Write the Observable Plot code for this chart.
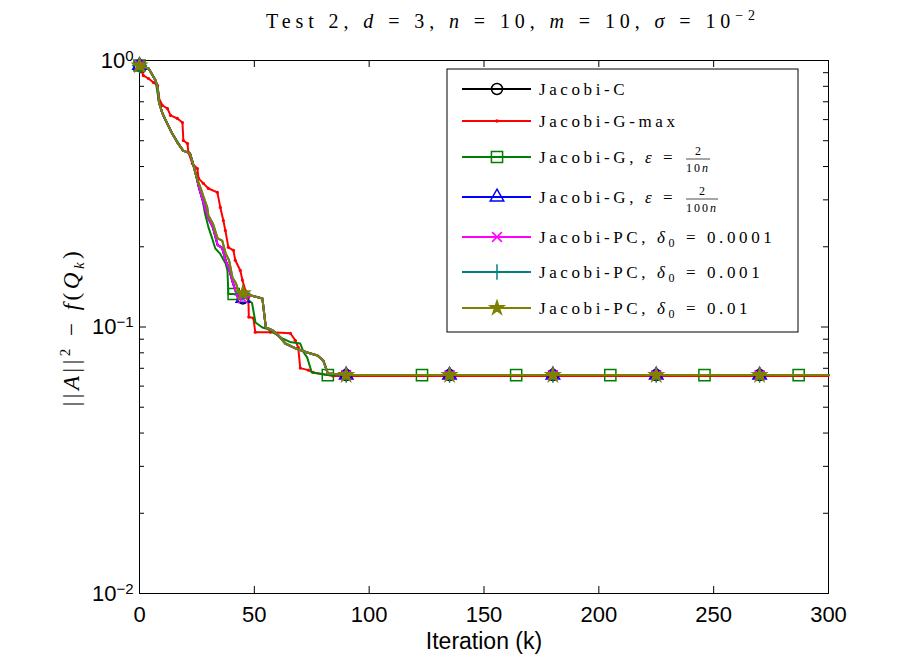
<!DOCTYPE html>
<html>
<head>
<meta charset="utf-8">
<script src="https://cdn.jsdelivr.net/npm/d3@7"></script>
<script src="https://cdn.jsdelivr.net/npm/@observablehq/plot@0.6"></script>
<style>
  body { margin: 0; background: #fff; }
  #chart { position: relative; width: 917px; height: 667px; }
</style>
</head>
<body>
<div id="chart"></div>
<script>
// Residual ||A||^2 - f(Q_k) per iteration for each Jacobi-type method.
const itersMain = [0, 4, 7, 8, 8.5, 10, 11, 14, 16.5, 19, 22, 23.5, 25, 26.5, 28, 29.5, 30, 32, 34, 36, 37.5, 39, 40.5, 42, 43, 44, 45, 49, 53.5, 55, 58, 60.5, 63.5, 67, 73, 77.5, 80, 82, 90, 135, 180, 225, 270, 300];
const valsMain = [0.958, 0.933, 0.841, 0.785, 0.696, 0.633, 0.606, 0.537, 0.492, 0.459, 0.448, 0.404, 0.361, 0.334, 0.306, 0.281, 0.262, 0.244, 0.215, 0.211, 0.189, 0.178, 0.153, 0.146, 0.137, 0.135, 0.134, 0.131, 0.128, 0.0996, 0.097, 0.0929, 0.0867, 0.0838, 0.0802, 0.0782, 0.0749, 0.0669, 0.066, 0.066, 0.066, 0.066, 0.066, 0.066];

const itersBlue = [0, 4, 7, 8, 8.5, 10, 11, 14, 16.5, 19, 22, 23.5, 25, 26, 27.5, 29, 30, 32, 34, 36, 37.5, 39, 40.5, 42, 43, 45, 47, 49, 53.5, 55, 58, 60.5, 63.5, 67, 73, 77.5, 80, 82, 90, 135, 180, 225, 270, 300];
const valsBlue = [0.958, 0.933, 0.841, 0.785, 0.696, 0.633, 0.606, 0.537, 0.492, 0.459, 0.448, 0.404, 0.361, 0.330, 0.300, 0.270, 0.255, 0.236, 0.203, 0.198, 0.178, 0.165, 0.148, 0.135, 0.128, 0.128, 0.130, 0.131, 0.128, 0.0996, 0.097, 0.0929, 0.0867, 0.0838, 0.0802, 0.0782, 0.0749, 0.0669, 0.066, 0.066, 0.066, 0.066, 0.066, 0.066];

const itersGreen = [0, 4, 7, 8.5, 10, 14, 19, 22, 23.5, 25.5, 27.5, 28.5, 30, 31.5, 33, 35, 37.5, 38.3, 38.7, 41, 46, 49, 50.5, 53.5, 55.5, 58, 62, 65.5, 70, 71.5, 73, 75, 82, 123, 164, 205, 246, 287, 300];
const valsGreen = [0.958, 0.933, 0.841, 0.696, 0.633, 0.537, 0.459, 0.448, 0.404, 0.346, 0.298, 0.267, 0.237, 0.217, 0.197, 0.189, 0.173, 0.163, 0.133, 0.133, 0.129, 0.123, 0.104, 0.0996, 0.0985, 0.0956, 0.0908, 0.0879, 0.0867, 0.0802, 0.0769, 0.0675, 0.066, 0.066, 0.066, 0.066, 0.066, 0.066, 0.066];

const itersRed = [0, 1.7, 3.9, 6.1, 7.8, 8.3, 10, 12.2, 13.5, 16.5, 18.7, 19.1, 20.9, 21.3, 23, 25.2, 25.7, 27.8, 30, 33.9, 35.2, 36.5, 37.4, 38.7, 40.9, 41.7, 43.9, 44.8, 46.1, 47.4, 47.6, 49.6, 50.4, 57, 65.7, 67.8, 69.1, 70, 73.5, 75.7, 84.3, 300];
const valsRed = [0.958, 0.878, 0.856, 0.827, 0.806, 0.727, 0.678, 0.660, 0.622, 0.606, 0.585, 0.501, 0.488, 0.452, 0.411, 0.393, 0.361, 0.346, 0.331, 0.320, 0.281, 0.251, 0.230, 0.199, 0.194, 0.178, 0.163, 0.150, 0.137, 0.129, 0.109, 0.108, 0.0956, 0.0956, 0.0947, 0.0892, 0.0838, 0.0701, 0.0689, 0.0675, 0.0655, 0.0655];

// Iterations where markers are drawn
const markEvery45 = [0, 45, 90, 135, 180, 225, 270];
const markEvery41 = [0, 41, 82, 123, 164, 205, 246, 287];

// Axis ticks
const xTicks = [0, 50, 100, 150, 200, 250, 300];
const yMajor = [0.01, 0.1, 1];
const yMinor = [0.02, 0.03, 0.04, 0.05, 0.06, 0.07, 0.08, 0.09, 0.2, 0.3, 0.4, 0.5, 0.6, 0.7, 0.8, 0.9];

const series = [
  {name: "Jacobi-C", color: "#000000", symbol: "circle", r: 5.5, iters: itersBlue, values: valsBlue, marks: markEvery45,
   label: [{t: "Jacobi-C"}]},
  {name: "Jacobi-G-max", color: "#ff0000", symbol: null, iters: itersRed, values: valsRed, marks: [],
   label: [{t: "Jacobi-G-max"}]},
  {name: "Jacobi-G 2/(10n)", color: "#008000", symbol: "square", r: 6.3, iters: itersGreen, values: valsGreen, marks: markEvery41,
   label: [{t: "Jacobi-G, "}, {t: "ε", it: true}, {t: " = "}], frac: ["2", "10", "n"]},
  {name: "Jacobi-G 2/(100n)", color: "#0000ff", symbol: "triangle", r: 5, iters: itersBlue, values: valsBlue, marks: markEvery45,
   label: [{t: "Jacobi-G, "}, {t: "ε", it: true}, {t: " = "}], frac: ["2", "100", "n"]},
  {name: "Jacobi-PC 0.0001", color: "#ff00ff", symbol: "times", r: 4.5, iters: itersBlue, values: valsBlue, marks: markEvery45,
   label: [{t: "Jacobi-PC, "}, {t: "δ", it: true}, {t: "0", sub: true}, {t: " = 0.0001"}]},
  {name: "Jacobi-PC 0.001", color: "#008080", symbol: "plus", r: 5, iters: itersMain, values: valsMain, marks: markEvery45,
   label: [{t: "Jacobi-PC, "}, {t: "δ", it: true}, {t: "0", sub: true}, {t: " = 0.001"}]},
  {name: "Jacobi-PC 0.01", color: "#808000", symbol: "star", r: 4.3, fill: "#808000", iters: itersMain, values: valsMain, marks: markEvery45,
   label: [{t: "Jacobi-PC, "}, {t: "δ", it: true}, {t: "0", sub: true}, {t: " = 0.01"}]}
];

const rows = s => s.iters.map((k, i) => ({k, v: s.values[i]}));

const W = 917, H = 667, mL = 139, mR = 89, mT = 60, mB = 74;
const plotW = W - mL - mR, plotH = H - mT - mB;

const marks = [
  Plot.frame({stroke: "#000", strokeWidth: 1}),
  // inward ticks on all four sides
  Plot.tickX(xTicks, {x: d => d, insetTop: plotH - 7, stroke: "#000"}),
  Plot.tickX(xTicks, {x: d => d, insetBottom: plotH - 7, stroke: "#000"}),
  Plot.tickY(yMajor, {y: d => d, insetRight: plotW - 7, stroke: "#000"}),
  Plot.tickY(yMajor, {y: d => d, insetLeft: plotW - 7, stroke: "#000"}),
  Plot.tickY(yMinor, {y: d => d, insetRight: plotW - 5, stroke: "#000"}),
  Plot.tickY(yMinor, {y: d => d, insetLeft: plotW - 5, stroke: "#000"}),
  Plot.axisX({ticks: xTicks, tickSize: 0, tickPadding: 13, label: null, fontSize: 22}),
  Plot.axisY({ticks: yMajor, tickSize: 0, tickPadding: 6, label: null, fontSize: 22,
              tickFormat: d => String(Math.round(Math.log10(d)))}),
  Plot.text(["Iteration (k)"], {text: d => d, frameAnchor: "bottom", lineAnchor: "middle", dy: 48, fontSize: 23})
];

for (const s of series) {
  const data = rows(s);
  marks.push(Plot.line(data, {x: "k", y: "v", stroke: s.color, strokeWidth: 2}));
  if (s.symbol) {
    marks.push(Plot.dot(data.filter(d => s.marks.includes(d.k)), {
      x: "k", y: "v", symbol: s.symbol, r: s.r,
      stroke: s.color, fill: s.fill || "none", strokeWidth: 1.5
    }));
  } else {
    marks.push(Plot.dot(data.filter(d => d.k < 300), {x: "k", y: "v", r: 1.6, fill: s.color, stroke: "none"}));
  }
}

const chart = Plot.plot({
  width: W, height: H,
  marginLeft: mL, marginRight: mR, marginTop: mT, marginBottom: mB,
  style: {fontFamily: "'Liberation Sans', Arial, Helvetica, sans-serif", fontSize: "22px", background: "#fff", color: "#000"},
  x: {domain: [0, 300]},
  y: {type: "log", domain: [0.01, 1]},
  marks
});
document.getElementById("chart").appendChild(chart);

const svg = d3.select(chart);

// Power-of-ten tick labels: "10" with a raised exponent
svg.selectAll('[aria-label="y-axis tick label"] text').each(function () {
  const exp = this.textContent.replace("-", "\u2212");
  const t = d3.select(this);
  t.text("10");
  t.append("tspan").attr("dy", "-0.45em").attr("font-size", 15).text(exp);
});

const serif = "'Liberation Serif', 'Times New Roman', serif";

// Title
const title = svg.append("text")
  .attr("x", 266).attr("y", 28).attr("text-anchor", "start")
  .attr("font-family", serif).attr("font-size", 20).attr("fill", "#000");
const tparts = [["Test 2, "], ["d", 1], [" = 3, "], ["n", 1], [" = 10, "], ["m", 1], [" = 10, "], ["σ", 1], [" = 10"]];
for (const [t, it] of tparts) title.append("tspan").attr("font-style", it ? "italic" : null).text(t);
title.append("tspan").attr("dy", -8).attr("font-size", 14).text("\u22122");
{
  const n = title.text().length;
  const len = title.node().getComputedTextLength();
  title.attr("letter-spacing", ((494 - len) / n).toFixed(2) + "px");
}

// Y-axis label, rotated
const yl = svg.append("text")
  .attr("transform", "translate(79,327) rotate(-90)")
  .attr("text-anchor", "middle")
  .attr("font-family", serif).attr("font-size", 23).attr("fill", "#000")
  .attr("letter-spacing", "3.5px");
yl.append("tspan").text("||");
yl.append("tspan").attr("font-style", "italic").text("A");
yl.append("tspan").text("||");
yl.append("tspan").attr("dy", -9).attr("font-size", 15).text("2");
yl.append("tspan").attr("dy", 9).text(" \u2212 ");
yl.append("tspan").attr("font-style", "italic").text("f");
yl.append("tspan").text("(");
yl.append("tspan").attr("font-style", "italic").text("Q");
yl.append("tspan").attr("dy", 5).attr("font-size", 15).attr("font-style", "italic").text("k");
yl.append("tspan").attr("dy", -5).text(")");

// Legend
const lg = svg.append("g").attr("text-anchor", "start");
lg.append("rect").attr("x", 447).attr("y", 69).attr("width", 351).attr("height", 263)
  .attr("fill", "#fff").attr("stroke", "#000").attr("stroke-width", 1);
const rowY = [89, 121, 157, 197, 237, 272, 308];
const symMap = {circle: d3.symbolCircle, square: d3.symbolSquare, triangle: d3.symbolTriangle,
                times: d3.symbolTimes, plus: d3.symbolPlus, star: d3.symbolStar};
series.forEach((s, i) => {
  const y = rowY[i];
  lg.append("line").attr("x1", 462).attr("x2", 531).attr("y1", y).attr("y2", y)
    .attr("stroke", s.color).attr("stroke-width", 2);
  if (s.symbol) {
    lg.append("path").attr("transform", `translate(497,${y})`)
      .attr("d", d3.symbol(symMap[s.symbol], Math.PI * s.r * s.r)())
      .attr("fill", s.fill || "none").attr("stroke", s.color).attr("stroke-width", 1.5);
  } else {
    lg.append("circle").attr("cx", 497).attr("cy", y).attr("r", 1.8).attr("fill", s.color);
  }
  const tx = lg.append("text").attr("x", 539).attr("y", y + 6).attr("text-anchor", "start")
    .attr("font-family", serif).attr("font-size", 17).attr("fill", "#000")
    .attr("letter-spacing", "3.6px");
  s.label.forEach((p, j) => {
    const ts = tx.append("tspan").text(p.t);
    if (p.it) ts.attr("font-style", "italic");
    if (p.sub) ts.attr("font-size", 12).attr("dy", 4);
    else if (j > 0 && s.label[j - 1].sub) ts.attr("dy", -4);
  });
  if (s.frac) {
    const fx = 539 + tx.node().getComputedTextLength() + 2;
    const fg = lg.append("g").attr("font-family", serif).attr("font-size", 12).attr("fill", "#000");
    const den = fg.append("text").attr("x", fx).attr("y", y + 15).attr("text-anchor", "start")
      .attr("letter-spacing", "2px");
    den.append("tspan").text(s.frac[1]);
    den.append("tspan").attr("font-style", "italic").text(s.frac[2]);
    const dw = den.node().getComputedTextLength();
    fg.append("line").attr("x1", fx).attr("x2", fx + dw).attr("y1", y + 2).attr("y2", y + 2)
      .attr("stroke", "#000").attr("stroke-width", 0.7);
    fg.append("text").attr("x", fx + dw / 2).attr("y", y - 2).attr("text-anchor", "middle").text(s.frac[0]);
  }
});
</script>
</body>
</html>
